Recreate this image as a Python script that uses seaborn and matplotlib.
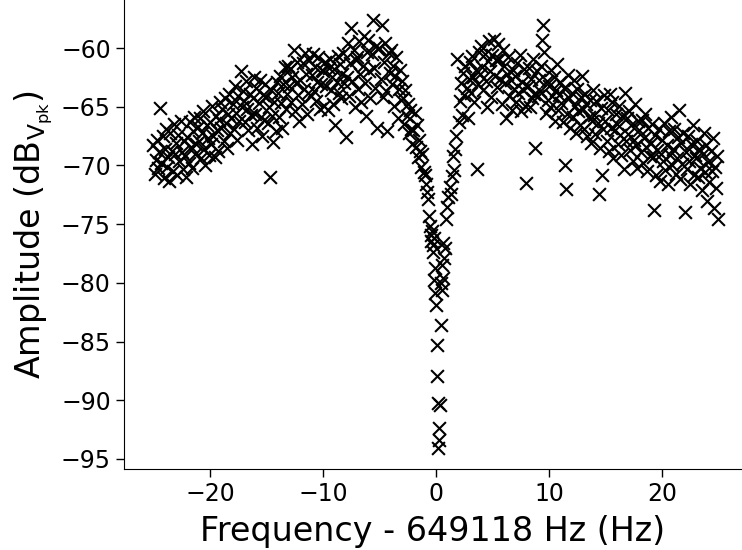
import numpy as np
import pandas as pd
import matplotlib
matplotlib.use("Agg")
import matplotlib.pyplot as plt
import seaborn as sns

sns.set_style("ticks")
plt.rcParams['font.family'] = ['DejaVu Sans']

# frequency offset from 649118 Hz (Hz), amplitude (dBVpk)
freq_left = [
    -25.0, -24.9, -24.8, -24.7, -24.6, -24.5, -24.4, -24.3, -24.2, -24.1,
    -24.0, -23.9, -23.8, -23.7, -23.6, -23.5, -23.4, -23.3, -23.2, -23.1,
    -23.0, -22.9, -22.8, -22.7, -22.6, -22.5, -22.4, -22.3, -22.2, -22.1,
    -22.0, -21.9, -21.8, -21.7, -21.6, -21.5, -21.4, -21.3, -21.2, -21.1,
    -21.0, -20.9, -20.8, -20.7, -20.6, -20.5, -20.4, -20.3, -20.2, -20.1,
    -20.0, -19.9, -19.8, -19.7, -19.6, -19.5, -19.4, -19.3, -19.2, -19.1,
    -19.0, -18.9, -18.8, -18.7, -18.6, -18.5, -18.4, -18.3, -18.2, -18.1,
    -18.0, -17.9, -17.8, -17.7, -17.6, -17.5, -17.4, -17.3, -17.2, -17.1,
    -17.0, -16.9, -16.8, -16.7, -16.6, -16.5, -16.4, -16.3, -16.2, -16.1,
    -16.0, -15.9, -15.8, -15.7, -15.6, -15.5, -15.4, -15.3, -15.2, -15.1,
    -15.0, -14.9, -14.8, -14.7, -14.6, -14.5, -14.4, -14.3, -14.2, -14.1,
    -14.0, -13.9, -13.8, -13.7, -13.6, -13.5, -13.4, -13.3, -13.2, -13.1,
    -13.0, -12.9, -12.8, -12.7, -12.6, -12.5, -12.4, -12.3, -12.2, -12.1,
    -12.0, -11.9, -11.8, -11.7, -11.6, -11.5, -11.4, -11.3, -11.2, -11.1,
    -11.0, -10.9, -10.8, -10.7, -10.6, -10.5, -10.4, -10.3, -10.2, -10.1,
    -10.0, -9.9, -9.8, -9.7, -9.6, -9.5, -9.4, -9.3, -9.2, -9.1,
    -9.0, -8.9, -8.8, -8.7, -8.6, -8.5, -8.4, -8.3, -8.2, -8.1,
    -8.0, -7.9, -7.8, -7.7, -7.6, -7.5, -7.4, -7.3, -7.2, -7.1,
    -7.0, -6.9, -6.8, -6.7, -6.6, -6.5, -6.4, -6.3, -6.2, -6.1,
    -6.0, -5.9, -5.8, -5.7, -5.6, -5.5, -5.4, -5.3, -5.2, -5.1,
    -5.0, -4.9, -4.8, -4.7, -4.6, -4.5, -4.4, -4.3, -4.2, -4.1,
    -4.0, -3.9, -3.8, -3.7, -3.6, -3.5, -3.4, -3.3, -3.2, -3.1,
    -3.0, -2.9, -2.8, -2.7, -2.6, -2.5, -2.4, -2.3, -2.2, -2.1,
    -2.0, -1.9, -1.8, -1.7, -1.6, -1.5, -1.4, -1.3, -1.2, -1.1,
    -1.0, -0.9, -0.8, -0.7, -0.6, -0.5, -0.4, -0.3, -0.2, -0.1,
]
amp_left = [
    -68.3, -70.7, -69.5, -67.8, -70.2, -68.9, -65.1, -69.8, -67.5, -71.1,
    -68.6, -66.9, -70.1, -69.3, -71.3, -67.2, -68.8, -70.5, -66.5, -69.0,
    -68.1, -70.8, -67.4, -69.6, -66.2, -68.9, -70.3, -67.9, -69.2, -71.0,
    -67.6, -69.8, -66.3, -68.4, -70.2, -67.1, -65.9, -69.0, -68.2, -66.7,
    -67.9, -66.0, -69.4, -67.2, -65.4, -68.6, -70.0, -66.6, -67.7, -69.1,
    -66.3, -68.2, -64.9, -67.5, -69.3, -65.8, -67.0, -68.8, -66.1, -64.6,
    -66.8, -65.2, -67.9, -64.3, -66.4, -68.5, -65.6, -63.9, -67.2, -66.0,
    -64.8, -66.9, -63.2, -65.5, -67.8, -64.1, -66.2, -62.0, -65.0, -63.7,
    -64.5, -66.3, -62.8, -65.2, -67.0, -63.9, -65.7, -68.2, -64.3, -62.5,
    -65.6, -63.4, -66.8, -64.7, -62.7, -65.9, -67.5, -64.0, -66.1, -63.1,
    -64.2, -66.4, -65.0, -71.0, -63.6, -65.8, -68.0, -64.6, -67.1, -62.9,
    -63.8, -65.9, -62.4, -64.7, -66.8, -63.1, -61.6, -65.2, -63.9, -61.5,
    -63.2, -61.8, -64.6, -62.5, -60.2, -65.4, -63.0, -61.2, -64.0, -66.2,
    -62.7, -64.8, -61.3, -63.5, -60.4, -62.2, -65.6, -63.8, -61.0, -64.1,
    -62.3, -60.5, -63.7, -61.6, -64.5, -62.9, -60.8, -65.2, -63.1, -61.9,
    -62.0, -64.9, -61.2, -63.2, -65.3, -61.7, -60.9, -63.6, -62.5, -64.8,
    -61.8, -66.6, -62.9, -60.7, -63.8, -61.4, -64.3, -62.2, -60.4, -63.0,
    -67.6, -62.5, -59.6, -64.1, -61.3, -58.3, -62.8, -60.2, -65.0, -61.0,
    -60.8, -63.5, -59.4, -62.2, -64.6, -61.5, -59.0, -63.0, -65.8, -60.3,
    -59.3, -62.0, -64.3, -60.5, -57.6, -61.7, -63.4, -59.8, -66.8, -60.1,
    -60.0, -62.6, -58.0, -64.2, -61.2, -59.6, -63.7, -67.1, -60.4, -62.1,
    -60.2, -63.1, -61.5, -64.9, -62.4, -60.8, -66.0, -63.5, -61.9, -64.4,
    -62.8, -64.3, -66.5, -63.6, -65.8, -64.8, -67.2, -65.3, -66.9, -68.2,
    -67.0, -65.5, -68.4, -66.6, -69.3, -67.8, -68.8, -70.1, -69.0, -70.6,
    -70.8, -71.6, -72.3, -72.9, -74.3, -75.2, -75.9, -77.4, -76.2, -78.7,
]

freq_dip = [-0.45, -0.35, -0.25, -0.15, -0.05, 0.0, 0.05, 0.1, 0.15, 0.2,
            0.25, 0.3, 0.35, 0.4, 0.45, 0.5, 0.55, 0.6, 0.65, 0.7, 0.8, 0.9]
amp_dip = [-76.4, -75.6, -76.8, -79.8, -80.9, -81.9, -85.3, -87.9, -90.2, -94.1,
           -93.4, -92.4, -90.4, -83.6, -80.0, -80.6, -78.5, -79.6, -76.6, -77.9,
           -77.0, -74.6]

freq_right = [
    1.0, 1.1, 1.2, 1.3, 1.4, 1.5, 1.6, 1.7, 1.8, 1.9,
    2.0, 2.1, 2.2, 2.3, 2.4, 2.5, 2.6, 2.7, 2.8, 2.9,
    3.0, 3.1, 3.2, 3.3, 3.4, 3.5, 3.6, 3.7, 3.8, 3.9,
    4.0, 4.1, 4.2, 4.3, 4.4, 4.5, 4.6, 4.7, 4.8, 4.9,
    5.0, 5.1, 5.2, 5.3, 5.4, 5.5, 5.6, 5.7, 5.8, 5.9,
    6.0, 6.1, 6.2, 6.3, 6.4, 6.5, 6.6, 6.7, 6.8, 6.9,
    7.0, 7.1, 7.2, 7.3, 7.4, 7.5, 7.6, 7.7, 7.8, 7.9,
    8.0, 8.1, 8.2, 8.3, 8.4, 8.5, 8.6, 8.7, 8.8, 8.9,
    9.0, 9.1, 9.2, 9.3, 9.4, 9.5, 9.6, 9.7, 9.8, 9.9,
    10.0, 10.1, 10.2, 10.3, 10.4, 10.5, 10.6, 10.7, 10.8, 10.9,
    11.0, 11.1, 11.2, 11.3, 11.4, 11.5, 11.6, 11.7, 11.8, 11.9,
    12.0, 12.1, 12.2, 12.3, 12.4, 12.5, 12.6, 12.7, 12.8, 12.9,
    13.0, 13.1, 13.2, 13.3, 13.4, 13.5, 13.6, 13.7, 13.8, 13.9,
    14.0, 14.1, 14.2, 14.3, 14.4, 14.5, 14.6, 14.7, 14.8, 14.9,
    15.0, 15.1, 15.2, 15.3, 15.4, 15.5, 15.6, 15.7, 15.8, 15.9,
    16.0, 16.1, 16.2, 16.3, 16.4, 16.5, 16.6, 16.7, 16.8, 16.9,
    17.0, 17.1, 17.2, 17.3, 17.4, 17.5, 17.6, 17.7, 17.8, 17.9,
    18.0, 18.1, 18.2, 18.3, 18.4, 18.5, 18.6, 18.7, 18.8, 18.9,
    19.0, 19.1, 19.2, 19.3, 19.4, 19.5, 19.6, 19.7, 19.8, 19.9,
    20.0, 20.1, 20.2, 20.3, 20.4, 20.5, 20.6, 20.7, 20.8, 20.9,
    21.0, 21.1, 21.2, 21.3, 21.4, 21.5, 21.6, 21.7, 21.8, 21.9,
    22.0, 22.1, 22.2, 22.3, 22.4, 22.5, 22.6, 22.7, 22.8, 22.9,
    23.0, 23.1, 23.2, 23.3, 23.4, 23.5, 23.6, 23.7, 23.8, 23.9,
    24.0, 24.1, 24.2, 24.3, 24.4, 24.5, 24.6, 24.7, 24.8, 24.9,
    25.0,
]
amp_right = [
    -73.5, -72.7, -71.8, -72.4, -70.9, -69.2, -70.4, -68.6, -67.5, -60.9,
    -66.3, -64.5, -63.0, -65.7, -62.1, -64.0, -61.5, -63.4, -66.0, -62.6,
    -61.2, -63.8, -60.7, -62.5, -64.6, -61.9, -70.3, -63.1, -60.3, -62.2,
    -59.8, -61.6, -63.6, -60.5, -62.8, -65.0, -61.1, -59.4, -62.0, -64.2,
    -60.6, -59.2, -62.4, -61.0, -63.3, -59.7, -60.9, -62.6, -64.8, -60.2,
    -61.5, -63.0, -66.0, -62.2, -60.8, -64.1, -62.7, -65.3, -61.9, -63.5,
    -62.4, -64.6, -61.3, -63.8, -60.6, -65.4, -62.9, -63.6, -61.8, -64.9,
    -71.5, -63.2, -61.7, -65.0, -62.6, -64.3, -60.9, -63.9, -68.5, -62.0,
    -64.1, -62.7, -63.7, -61.5, -59.3, -58.0, -60.3, -65.5, -62.8, -64.4,
    -63.2, -65.0, -61.9, -64.1, -62.5, -66.2, -63.6, -61.4, -65.3, -64.0,
    -62.9, -64.7, -66.3, -63.4, -70.0, -72.0, -65.6, -62.3, -64.3, -66.8,
    -63.8, -65.9, -62.7, -64.9, -67.2, -63.5, -65.4, -66.6, -64.2, -62.4,
    -65.2, -66.9, -63.9, -64.8, -67.5, -65.9, -64.4, -68.1, -66.2, -63.6,
    -65.7, -67.3, -64.5, -66.4, -72.4, -68.5, -65.1, -70.8, -66.9, -64.0,
    -66.2, -67.9, -65.3, -68.8, -63.9, -66.8, -64.6, -69.4, -67.0, -65.6,
    -66.5, -68.2, -64.9, -67.4, -69.1, -65.8, -70.3, -63.8, -67.9, -66.0,
    -67.3, -65.4, -68.7, -66.6, -69.6, -67.8, -64.8, -68.3, -70.2, -66.2,
    -67.0, -68.9, -66.1, -69.8, -67.7, -65.6, -68.4, -70.5, -66.8, -69.2,
    -68.1, -66.5, -69.3, -73.8, -67.4, -70.8, -68.7, -66.9, -71.3, -69.0,
    -67.8, -69.6, -66.4, -70.4, -68.3, -71.6, -67.1, -69.1, -65.9, -70.0,
    -68.6, -66.9, -70.7, -69.4, -67.6, -65.3, -71.2, -68.1, -69.9, -67.2,
    -74.0, -68.9, -70.3, -67.5, -69.6, -71.6, -68.2, -66.6, -70.8, -69.1,
    -69.4, -67.9, -71.0, -68.6, -70.2, -72.1, -69.0, -67.2, -70.6, -68.3,
    -73.0, -69.7, -71.4, -68.8, -70.5, -67.7, -73.6, -70.1, -71.9, -69.2,
    -74.6,
]

df = pd.DataFrame({
    'freq': freq_left + freq_dip + freq_right,
    'amp': amp_left + amp_dip + amp_right,
})

fig = plt.figure(figsize=(7.42, 5.5), dpi=100)
ax = fig.add_axes([124 / 742, 81 / 550, 618 / 742, 469 / 550])

sns.scatterplot(data=df, x='freq', y='amp', marker='x', color='black',
                s=85, linewidth=1.5, ax=ax, legend=False)

ax.set_xlim(-27.61, 27.08)
ax.set_ylim(-95.86, -55.91)
ax.set_xticks([-20, -10, 0, 10, 20])
ax.set_yticks([-95, -90, -85, -80, -75, -70, -65, -60])
ax.tick_params(labelsize=17, length=6, width=1, colors='black')
ax.set_xlabel('Frequency - 649118 Hz (Hz)', fontsize=24, color='black', labelpad=6)
ax.set_ylabel(r'Amplitude (dB$_{\mathrm{V_{pk}}}$)', fontsize=24, color='black')
sns.despine(ax=ax)
for sp in ax.spines.values():
    sp.set_color('black')

fig.savefig('out.png', dpi=100, facecolor='white')
